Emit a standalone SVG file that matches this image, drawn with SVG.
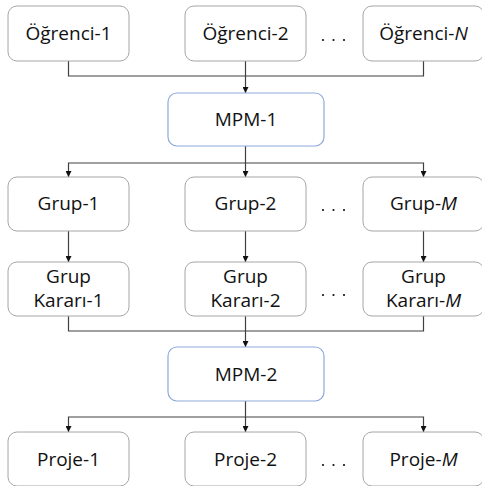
<svg xmlns="http://www.w3.org/2000/svg" width="482" height="486" viewBox="0 0 482 486">
<defs>
<style>
.box{fill:#ffffff;stroke:#a6a6a6;stroke-width:1}
.mpm{fill:#ffffff;stroke:#8eaadb;stroke-width:1.2}
.t{font-family:"Open Sans","Noto Sans",sans-serif;font-size:19px;fill:#111111;text-anchor:middle}
.c{fill:none;stroke:#404040;stroke-width:1.2}
.dot{fill:#111111}
</style>
<marker id="ah" viewBox="0 0 10 10" refX="10" refY="5" markerWidth="6" markerHeight="6" markerUnits="userSpaceOnUse" orient="auto">
<path d="M0,0 L10,5 L0,10 z" fill="#111111"/>
</marker>
</defs>
<rect width="482" height="486" fill="#ffffff"/>
<g id="connectors">
<path class="c" d="M68.5,61 V76 H423.5 V61"/>
<path class="c" d="M245.5,61 V93" marker-end="url(#ah)"/>
<path class="c" d="M245.5,146 V163 H68.5 V177" marker-end="url(#ah)"/>
<path class="c" d="M245.5,163 V177" marker-end="url(#ah)"/>
<path class="c" d="M245.5,163 H423.5 V177" marker-end="url(#ah)"/>
<path class="c" d="M68.5,231 V262" marker-end="url(#ah)"/>
<path class="c" d="M245.5,231 V262" marker-end="url(#ah)"/>
<path class="c" d="M423.5,231 V262" marker-end="url(#ah)"/>
<path class="c" d="M68.5,316 V331 H423.5 V316"/>
<path class="c" d="M245.5,316 V347" marker-end="url(#ah)"/>
<path class="c" d="M245.5,401 V417 H68.5 V432" marker-end="url(#ah)"/>
<path class="c" d="M245.5,417 V432" marker-end="url(#ah)"/>
<path class="c" d="M245.5,417 H423.5 V432" marker-end="url(#ah)"/>
</g>
<g id="ogrenci1"><rect class="box" x="8" y="6" width="121" height="55" rx="9"/><text class="t" x="68.5" y="40">Öğrenci-1</text></g>
<g id="ogrenci2"><rect class="box" x="185" y="6" width="121" height="55" rx="9"/><text class="t" x="245.5" y="40">Öğrenci-2</text></g>
<g id="ogrenciN"><rect class="box" x="363" y="6" width="121" height="55" rx="9"/><text class="t" x="423.5" y="40">Öğrenci-<tspan font-style="italic">N</tspan></text></g>
<g id="dots1"><circle class="dot" cx="323" cy="40" r="1.1"/><circle class="dot" cx="333.5" cy="40" r="1.1"/><circle class="dot" cx="344" cy="40" r="1.1"/></g>
<g id="mpm1"><rect class="mpm" x="168" y="93" width="156" height="53" rx="9"/><text class="t" x="246" y="126">MPM-1</text></g>
<g id="grup1"><rect class="box" x="8" y="177" width="121" height="54" rx="9"/><text class="t" x="68.5" y="210">Grup-1</text></g>
<g id="grup2"><rect class="box" x="185" y="177" width="121" height="54" rx="9"/><text class="t" x="245.5" y="210">Grup-2</text></g>
<g id="grupM"><rect class="box" x="363" y="177" width="121" height="54" rx="9"/><text class="t" x="423.5" y="210">Grup-<tspan font-style="italic">M</tspan></text></g>
<g id="dots2"><circle class="dot" cx="323" cy="210" r="1.1"/><circle class="dot" cx="333.5" cy="210" r="1.1"/><circle class="dot" cx="344" cy="210" r="1.1"/></g>
<g id="karar1"><rect class="box" x="8" y="262" width="121" height="54" rx="9"/><text class="t" x="68.5" y="283">Grup</text><text class="t" x="68.5" y="307">Kararı-1</text></g>
<g id="karar2"><rect class="box" x="185" y="262" width="121" height="54" rx="9"/><text class="t" x="245.5" y="283">Grup</text><text class="t" x="245.5" y="307">Kararı-2</text></g>
<g id="kararM"><rect class="box" x="363" y="262" width="121" height="54" rx="9"/><text class="t" x="423.5" y="283">Grup</text><text class="t" x="423.5" y="307">Kararı-<tspan font-style="italic">M</tspan></text></g>
<g id="dots3"><circle class="dot" cx="323" cy="295" r="1.1"/><circle class="dot" cx="333.5" cy="295" r="1.1"/><circle class="dot" cx="344" cy="295" r="1.1"/></g>
<g id="mpm2"><rect class="mpm" x="168" y="347" width="156" height="54" rx="9"/><text class="t" x="246" y="381">MPM-2</text></g>
<g id="proje1"><rect class="box" x="8" y="432" width="121" height="54" rx="9"/><text class="t" x="68.5" y="466">Proje-1</text></g>
<g id="proje2"><rect class="box" x="185" y="432" width="121" height="54" rx="9"/><text class="t" x="245.5" y="466">Proje-2</text></g>
<g id="projeM"><rect class="box" x="363" y="432" width="121" height="54" rx="9"/><text class="t" x="423.5" y="466">Proje-<tspan font-style="italic">M</tspan></text></g>
<g id="dots4"><circle class="dot" cx="323" cy="465" r="1.1"/><circle class="dot" cx="333.5" cy="465" r="1.1"/><circle class="dot" cx="344" cy="465" r="1.1"/></g>
</svg>
